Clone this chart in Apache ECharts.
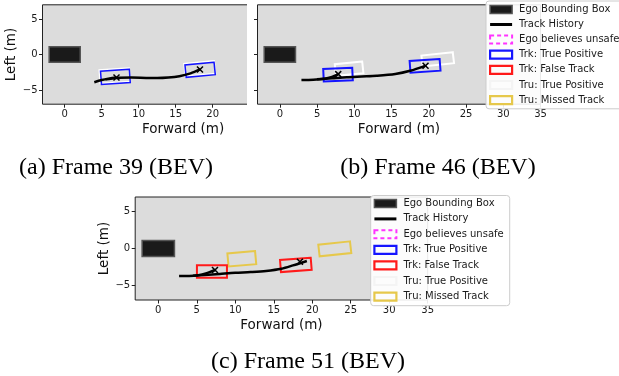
<!DOCTYPE html>
<html>
<head>
<meta charset="utf-8">
<script src="https://cdn.jsdelivr.net/npm/echarts@6.0.0/dist/echarts.min.js"></script>
<style>
html, body { margin: 0; padding: 0; background: #fff; }
#chart { width: 619px; height: 376px; }
</style>
</head>
<body>
<div id="chart"></div>
<script>
// boxes are [centerX, centerY, length, width, headingDeg] in metres
var egoBox = [[0, 0, 4.2, 2.2, 0]];

// Frame 39
var f39TrkTP = [[6.85, -3.15, 3.9, 1.85, 4], [18.3, -2.16, 3.95, 1.75, 5.5]];
var f39TruTP = [[6.75, -2.98, 4.05, 1.9, 4], [18.25, -1.98, 4.1, 1.8, 5.5]];
var f39TrackA = [[4.0, -3.9], [5, -3.6], [6, -3.4], [7, -3.25]];
var f39TrackB = [[5.5, -3.5], [7, -3.3], [9, -3.25], [11, -3.3], [12.5, -3.32], [14, -3.25], [15.5, -3.05], [17, -2.65], [18.3, -2.1]];
var f39Marks = [[7.0, -3.24], [18.28, -2.11]];

// Frame 46
var f46TrkTP = [[7.81, -2.83, 3.9, 1.75, 2.6], [19.5, -1.6, 4.04, 1.65, 4.1]];
var f46TruTP = [[9.3, -2.0, 3.7, 1.65, 5.7], [21.2, -0.68, 4.23, 1.55, 6.4]];
var f46TrackA = [[2.9, -3.6], [4.5, -3.55], [6, -3.4], [7, -3.15], [7.8, -2.8]];
var f46TrackB = [[5, -3.5], [7, -3.35], [9, -3.2], [11, -3.1], [13, -3.0], [15.5, -2.75], [17.5, -2.3], [19.5, -1.6]];
var f46Marks = [[7.84, -2.76], [19.56, -1.58]];

// Frame 51
var f51TrkFalse = [[6.97, -3.12, 3.9, 1.7, 0], [17.87, -2.23, 4.0, 1.65, 4.4]];
var f51TruMissed = [[10.85, -1.4, 3.61, 1.78, 5], [22.93, -0.05, 4.14, 1.6, 6.2]];
var f51TrackA = [[2.7, -3.75], [4, -3.75], [5.2, -3.65], [6.3, -3.35], [7.4, -2.9]];
var f51TrackB = [[4.5, -3.7], [6, -3.6], [8, -3.45], [10, -3.3], [12, -3.2], [14, -3.05], [16, -2.75], [17.5, -2.3], [19.3, -1.7]];
var f51Marks = [[7.36, -2.93], [18.4, -1.81]];

var xTicks = [0, 5, 10, 15, 20, 25, 30, 35];
var xTicksA = [0, 5, 10, 15, 20];
var yTicks = [-5, 0, 5];
var captions = ['(a) Frame 39 (BEV)', '(b) Frame 46 (BEV)', '(c) Frame 51 (BEV)'];
var legendNames = ['Ego Bounding Box', 'Track History', 'Ego believes unsafe', 'Trk: True Positive',
  'Trk: False Track', 'Tru: True Positive', 'Tru: Missed Track'];

var COL = {
  ego: '#1a1a1a', trkTP: '#1414ff', trkFalse: '#ff1a1a', truTP: '#ffffff', truMissed: '#e6c84b', unsafe: '#ff33ff'
};

function minus(v) { return String(v).replace('-', '\u2212'); }

var tickFont = { fontSize: 10, fontFamily: 'DejaVu Sans', color: '#1a1a1a' };
var nameFont = { fontSize: 13.5, fontFamily: 'DejaVu Sans', color: '#111' };

function xAxisFor(grid, ticks, z) {
  return {
    type: 'value', gridIndex: grid, min: -3, max: 35, z: z,
    axisLine: { show: false, onZero: false },
    axisTick: { show: true, length: 3.5, customValues: ticks, lineStyle: { color: '#222', width: 1 } },
    axisLabel: Object.assign({ customValues: ticks, margin: 5, formatter: minus }, tickFont),
    splitLine: { show: false },
    name: 'Forward (m)', nameLocation: 'middle', nameGap: 18, nameTextStyle: nameFont
  };
}
function yAxisFor(grid, showLabels, z) {
  return {
    type: 'value', gridIndex: grid, min: -7, max: 7, z: z,
    axisLine: { show: false, onZero: false },
    axisTick: { show: true, length: 3.5, customValues: yTicks, lineStyle: { color: '#222', width: 1 } },
    axisLabel: Object.assign({ show: showLabels, customValues: yTicks, margin: 5, formatter: minus }, tickFont),
    splitLine: { show: false },
    name: showLabels ? 'Left (m)' : '', nameLocation: 'middle', nameGap: 24, nameTextStyle: nameFont
  };
}

function boxSeries(name, data, grid, stroke, width, z, fill) {
  return {
    type: 'custom', name: name, xAxisIndex: grid, yAxisIndex: grid, z: z, silent: true,
    data: data, encode: { x: 0, y: 1 },
    renderItem: function (params, api) {
      var cx = api.value(0), cy = api.value(1), L = api.value(2), W = api.value(3);
      var h = api.value(4) * Math.PI / 180, c = Math.cos(h), s = Math.sin(h);
      var pts = [[L / 2, W / 2], [-L / 2, W / 2], [-L / 2, -W / 2], [L / 2, -W / 2]].map(function (p) {
        return api.coord([cx + p[0] * c - p[1] * s, cy + p[0] * s + p[1] * c]);
      });
      return { type: 'polygon', shape: { points: pts },
        style: { fill: fill || 'none', stroke: stroke, lineWidth: width } };
    }
  };
}
function trackSeries(data, grid, z) {
  return {
    type: 'line', name: 'Track History', xAxisIndex: grid, yAxisIndex: grid, z: z, silent: true,
    data: data, showSymbol: false, smooth: 0.3,
    lineStyle: { color: '#000', width: 2.5 }
  };
}
function markSeries(data, grid, z) {
  return {
    type: 'custom', name: 'marker', xAxisIndex: grid, yAxisIndex: grid, z: z, silent: true,
    data: data, encode: { x: 0, y: 1 },
    renderItem: function (params, api) {
      var p = api.coord([api.value(0), api.value(1)]), r = 3;
      return { type: 'group', children: [
        { type: 'line', shape: { x1: p[0] - r, y1: p[1] - r, x2: p[0] + r, y2: p[1] + r }, style: { stroke: '#000', lineWidth: 1.5 } },
        { type: 'line', shape: { x1: p[0] - r, y1: p[1] + r, x2: p[0] + r, y2: p[1] - r }, style: { stroke: '#000', lineWidth: 1.5 } }
      ] };
    }
  };
}
function emptySeries(name, grid) {
  return { type: 'custom', name: name, xAxisIndex: grid, yAxisIndex: grid, data: [], renderItem: function () { return null; } };
}

var legendIconStyles = {
  'Ego Bounding Box': { icon: 'rect', itemStyle: { color: COL.ego, borderColor: '#555', borderWidth: 1.5 } },
  'Track History': { icon: 'path://M0,0H22V3H0Z', itemStyle: { color: '#000', borderWidth: 0 } },
  'Ego believes unsafe': { icon: 'rect', itemStyle: { color: 'rgba(0,0,0,0)', borderColor: COL.unsafe, borderWidth: 2, borderType: [4, 3] } },
  'Trk: True Positive': { icon: 'rect', itemStyle: { color: 'rgba(0,0,0,0)', borderColor: COL.trkTP, borderWidth: 2.2 } },
  'Trk: False Track': { icon: 'rect', itemStyle: { color: 'rgba(0,0,0,0)', borderColor: COL.trkFalse, borderWidth: 2.2 } },
  'Tru: True Positive': { icon: 'rect', itemStyle: { color: 'rgba(0,0,0,0)', borderColor: '#f4f4f4', borderWidth: 2.2 } },
  'Tru: Missed Track': { icon: 'rect', itemStyle: { color: 'rgba(0,0,0,0)', borderColor: COL.truMissed, borderWidth: 2.2 } }
};
function legendFor(left, top, gap, pad) {
  return {
    orient: 'vertical', left: left, top: top, z: 20, selectedMode: false,
    itemWidth: 22, itemHeight: 8, itemGap: gap, padding: pad,
    backgroundColor: 'rgba(255,255,255,0.9)', borderColor: '#cccccc', borderWidth: 1, borderRadius: 3,
    textStyle: { fontSize: 10, fontFamily: 'DejaVu Sans', color: '#1a1a1a', padding: [0, 0, 0, 2] },
    data: legendNames.map(function (n) {
      return Object.assign({ name: n }, legendIconStyles[n]);
    })
  };
}

var gridBase = { show: true, backgroundColor: '#dcdcdc', borderColor: '#222', borderWidth: 1, containLabel: false };

var option = {
  animation: false,
  title: captions.map(function (t, i) {
    var pos = [[116, 156], [438, 156], [308, 350]][i];
    return { text: t, left: pos[0], top: pos[1], textAlign: 'center', padding: 0,
      textStyle: { fontFamily: 'Liberation Serif', fontSize: 24, fontWeight: 'normal', color: '#000' } };
  }),
  graphic: [{ type: 'rect', z: 5, silent: true, shape: { x: 247, y: 0, width: 380, height: 145 }, style: { fill: '#fff' } }],
  legend: [legendFor(486, 1, 5, [3.5, 6, 3.5, 3]), legendFor(370.7, 195.5, 5.4, [3, 6, 4, 2.6])],
  grid: [
    Object.assign({ left: 42.5, top: 4.8, width: 281.2, height: 99.4, z: 0 }, gridBase),
    Object.assign({ left: 257.5, top: 4.8, width: 283, height: 99.4, z: 6 }, gridBase),
    Object.assign({ left: 135.2, top: 197, width: 292.5, height: 103, z: 6 }, gridBase)
  ],
  xAxis: [xAxisFor(0, xTicksA, 1), xAxisFor(1, xTicks, 7), xAxisFor(2, xTicks, 7)],
  yAxis: [yAxisFor(0, true, 1), yAxisFor(1, false, 7), yAxisFor(2, true, 7)],
  series: [
    // (a) frame 39
    boxSeries('Ego Bounding Box', egoBox, 0, '#555', 1.5, 2, COL.ego),
    boxSeries('Tru: True Positive', f39TruTP, 0, COL.truTP, 1.5, 2),
    boxSeries('Trk: True Positive', f39TrkTP, 0, COL.trkTP, 1.5, 2),
    trackSeries(f39TrackA, 0, 3),
    trackSeries(f39TrackB, 0, 3),
    markSeries(f39Marks, 0, 3),
    // (b) frame 46
    boxSeries('Ego Bounding Box', egoBox, 1, '#555', 1.5, 8, COL.ego),
    boxSeries('Tru: True Positive', f46TruTP, 1, COL.truTP, 2, 8),
    boxSeries('Trk: True Positive', f46TrkTP, 1, COL.trkTP, 2, 8),
    trackSeries(f46TrackA, 1, 9),
    trackSeries(f46TrackB, 1, 9),
    markSeries(f46Marks, 1, 9),
    // (c) frame 51
    boxSeries('Ego Bounding Box', egoBox, 2, '#555', 1.5, 8, COL.ego),
    boxSeries('Tru: Missed Track', f51TruMissed, 2, COL.truMissed, 2, 8),
    boxSeries('Trk: False Track', f51TrkFalse, 2, COL.trkFalse, 2, 8),
    trackSeries(f51TrackA, 2, 9),
    trackSeries(f51TrackB, 2, 9),
    markSeries(f51Marks, 2, 9),
    emptySeries('Ego believes unsafe', 2)
  ]
};

var chart = echarts.init(document.getElementById('chart'));
chart.setOption(option);
</script>
</body>
</html>
